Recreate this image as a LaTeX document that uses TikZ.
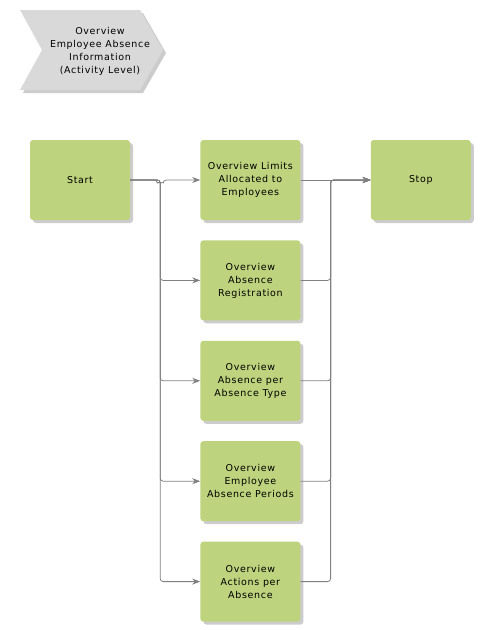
\documentclass[tikz,border=0pt]{standalone}
\usepackage{fontspec}
\setmainfont{DejaVu Sans}[LetterSpace=7]
\usepackage {tikz}
\usetikzlibrary {positioning}
\usetikzlibrary{arrows.meta}
\usetikzlibrary{shadows}
\definecolor{actgreen}{RGB}{189,211,125}
\definecolor{chevgray}{RGB}{217,217,217}
\definecolor{linegray}{RGB}{128,128,128}
\tikzset{
    activity/.style = {rectangle, rounded corners=3pt, fill=actgreen, minimum width=100pt, minimum height=80pt, align=center, font=\fontsize{9.5}{13}\selectfont, drop shadow={shadow xshift=3pt, shadow yshift=-3pt, fill=black!20, opacity=1}},
    flow/.style = {draw=linegray, line width=0.8pt, rounded corners=3pt},
    arr/.style = {-{Stealth[length=8pt,width=6pt]}}}

\begin{document}
\begin{tikzpicture}[x=1pt,y=-1pt]
        \useasboundingbox (0,0) rectangle (480,630);
        \fill[black!20] (23,13) -- (143,13) -- (166,53) -- (143,93) -- (23,93) -- (45,53) -- cycle;
        \fill[chevgray] (20,10) -- (140,10) -- (163,50) -- (140,90) -- (20,90) -- (42,50) -- cycle;
        \node[align=center, font=\fontsize{9.5}{13}\selectfont] (title) at (100,51) {Overview\\Employee Absence\\Information\\(Activity Level)};
        \node[activity] (start) at (80,180) {Start};
        \node[activity, right=70pt of start] (limits) {Overview Limits\\Allocated to\\Employees};
        \node[activity, below=20pt of limits] (registration) {Overview\\Absence\\Registration};
        \node[activity, below=20pt of registration] (pertype) {Overview\\Absence per\\Absence Type};
        \node[activity, below=20pt of pertype] (periods) {Overview\\Employee\\Absence Periods};
        \node[activity, below=20pt of periods] (actions) {Overview\\Actions per\\Absence};
        \node[activity, right=70pt of limits] (stop) {Stop};
        \draw[flow,arr] (start.east) -- ++(27,0) arc[start angle=180, end angle=360, radius=3pt] -- (limits.west);
        \foreach \n in {registration,pertype,periods,actions}
            \draw[flow,arr] (start.east) -- ++(30,0) |- (\n.west);
        \draw[flow,arr] (limits) -- (stop);
        \foreach \n in {registration,pertype,periods,actions}
            \draw[flow,arr] (\n.east) -- ++(30,0) |- (stop.west);
\end{tikzpicture}
\end{document}
